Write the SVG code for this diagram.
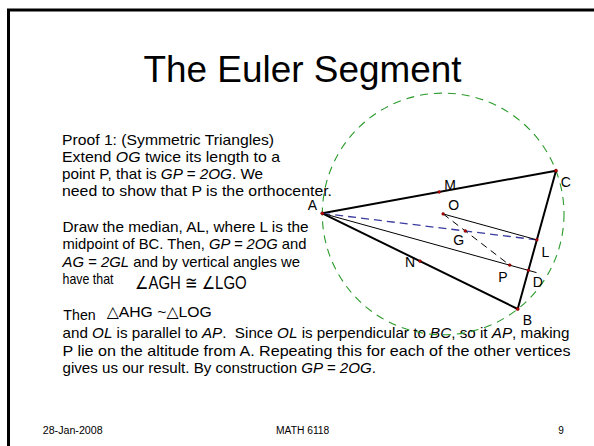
<svg xmlns="http://www.w3.org/2000/svg" width="594" height="446" viewBox="0 0 594 446">
<style>
.t{font-family:"Liberation Sans","DejaVu Sans",sans-serif;fill:#000}
.body{font-size:14.5px}
.i{font-style:italic}
.lbl{font-family:"Liberation Sans",Arial,sans-serif;font-size:14px;text-anchor:middle;fill:#000}
.foot{font-size:10px}
.tri{stroke:#000;stroke-width:2;fill:none;stroke-linejoin:round}
.thin{stroke:#000;stroke-width:1;fill:none}
.dot{fill:#c00000;stroke:#600;stroke-width:0.5}
</style>
<rect width="594" height="446" fill="#fff"/>
<path d="M8.5,446 V10 H594" fill="none" stroke="#000" stroke-width="3"/>

<text class="t" x="143.5" y="81.7" font-size="37" textLength="318" lengthAdjust="spacingAndGlyphs">The Euler Segment</text>

<g id="text-proof">
<text class="t body" x="62" y="144.5" textLength="212" lengthAdjust="spacingAndGlyphs">Proof 1: (Symmetric Triangles)</text>
<text class="t body" x="62" y="161.7" textLength="218" lengthAdjust="spacingAndGlyphs">Extend <tspan class="i">OG</tspan> twice its length to a</text>
<text class="t body" x="62" y="178.9" textLength="201" lengthAdjust="spacingAndGlyphs">point P, that is <tspan class="i">GP = 2OG</tspan>. We</text>
<text class="t body" x="62" y="196.1" textLength="270" lengthAdjust="spacingAndGlyphs">need to show that P is the orthocenter.</text>

<text class="t body" x="62.5" y="231.7" textLength="246" lengthAdjust="spacingAndGlyphs">Draw the median, AL, where L is the</text>
<text class="t body" x="62.5" y="249.2" textLength="244" lengthAdjust="spacingAndGlyphs">midpoint of BC. Then, <tspan class="i">GP = 2OG</tspan> and</text>
<text class="t body" x="62.5" y="266.6" textLength="237.5" lengthAdjust="spacingAndGlyphs"><tspan class="i">AG = 2GL</tspan> and by vertical angles we</text>
<text class="t body" x="62.5" y="284" textLength="51" lengthAdjust="spacingAndGlyphs">have that</text>
<text class="t" x="135" y="288.8" font-size="18" textLength="111.7" lengthAdjust="spacingAndGlyphs">∠AGH ≅ ∠LGO</text>

<text class="t body" x="63.3" y="320" textLength="32.4" lengthAdjust="spacingAndGlyphs">Then</text>
<text class="t" x="106.7" y="317.3" font-size="15.5" textLength="105" lengthAdjust="spacingAndGlyphs">△AHG ~△LOG</text>
<text class="t body" x="62.5" y="338.3" textLength="507" lengthAdjust="spacingAndGlyphs">and <tspan class="i">OL</tspan> is parallel to <tspan class="i">AP</tspan>.&#160; Since <tspan class="i">OL</tspan> is perpendicular to <tspan class="i">BC</tspan>, so it <tspan class="i">AP</tspan>, making</text>
<text class="t body" x="62.5" y="355.8" textLength="508" lengthAdjust="spacingAndGlyphs">P lie on the altitude from A. Repeating this for each of the other vertices</text>
<text class="t body" x="62.5" y="373.2" textLength="313.5" lengthAdjust="spacingAndGlyphs">gives us our result. By construction <tspan class="i">GP = 2OG</tspan>.</text>
</g>

<g id="connectors">
<circle id="circumcircle" cx="443.15" cy="213.94" r="120.85" fill="none" stroke="#2a9a2a" stroke-width="1.1" stroke-dasharray="8,6"/>
<polygon id="triangle-ABC" class="tri" points="322.3,213.3 517.7,309 556,170.7"/>
<line id="median-AL" x1="322.3" y1="213.3" x2="536.85" y2="239.85" stroke="#3a3aa0" stroke-width="1.3" stroke-dasharray="8,5"/>
<line id="seg-OL" class="thin" x1="443.15" y1="213.94" x2="536.85" y2="239.85"/>
<line id="altitude-AD" class="thin" x1="322.3" y1="213.3" x2="536.5" y2="272.6"/>
<line id="euler-OP" class="thin" x1="443.15" y1="213.94" x2="509.7" y2="265.12" stroke-dasharray="7,5"/>
</g>

<g id="pt-A"><circle class="dot" cx="322.3" cy="213.3" r="1.6"/><text class="lbl" x="312.5" y="210">A</text></g>
<g id="pt-B"><circle class="dot" cx="517.7" cy="309" r="1.6"/><text class="lbl" x="527.3" y="324.5">B</text></g>
<g id="pt-C"><circle class="dot" cx="556" cy="170.7" r="1.6"/><text class="lbl" x="565.7" y="187.3">C</text></g>
<g id="pt-M"><circle class="dot" cx="439.15" cy="192" r="1.4"/><text class="lbl" x="450" y="190">M</text></g>
<g id="pt-N"><circle class="dot" cx="420" cy="261.15" r="1.4"/><text class="lbl" x="410" y="266.7">N</text></g>
<g id="pt-O"><circle class="dot" cx="443.15" cy="213.94" r="1.4"/><text class="lbl" x="453.8" y="210">O</text></g>
<g id="pt-G"><circle class="dot" cx="465.3" cy="231" r="1.4"/><text class="lbl" x="458.7" y="245">G</text></g>
<g id="pt-L"><circle class="dot" cx="536.85" cy="239.85" r="1.4"/><text class="lbl" x="545.5" y="257.3">L</text></g>
<g id="pt-P"><circle class="dot" cx="509.7" cy="265.12" r="1.4"/><text class="lbl" x="502.8" y="281.7">P</text></g>
<g id="pt-D"><circle class="dot" cx="528.4" cy="270.37" r="1.4"/><text class="lbl" x="537.7" y="287.3">D</text></g>

<g id="footer">
<text class="t foot" x="42.7" y="433.5" textLength="60" lengthAdjust="spacingAndGlyphs">28-Jan-2008</text>
<text class="t foot" x="276" y="433.5" textLength="53.3" lengthAdjust="spacingAndGlyphs">MATH 6118</text>
<text class="t foot" x="561" y="433.5" text-anchor="middle">9</text>
</g>
</svg>
